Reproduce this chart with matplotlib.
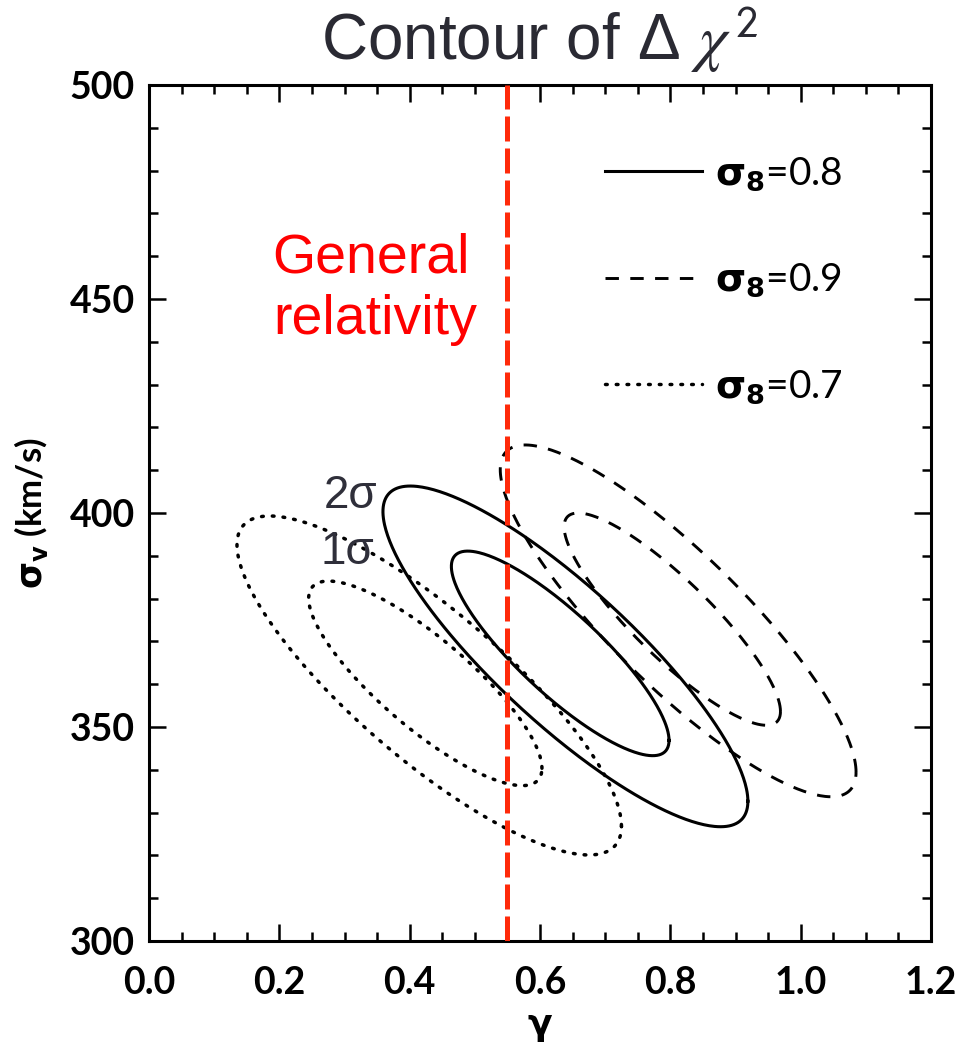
import numpy as np
import matplotlib
matplotlib.use("Agg")
import matplotlib.pyplot as plt
from matplotlib.ticker import MultipleLocator, FormatStrFormatter
from matplotlib.font_manager import FontProperties
from matplotlib.lines import Line2D

# ---------------- data ----------------
# each confidence contour: centre (gamma, sigma_v), half-extent in gamma,
# half-extent in sigma_v, correlation coefficient
series_labels = ["0.8", "0.9", "0.7"]
series_styles = ["solid", "dashed", "dotted"]

# order per series: [1 sigma, 2 sigma]
gamma_center = [[0.631, 0.639], [0.803, 0.812], [0.424, 0.430]]
sigv_center = [[367.2, 366.5], [375.2, 374.8], [360.2, 359.7]]
gamma_half = [[0.167, 0.280], [0.166, 0.273], [0.179, 0.295]]
sigv_half = [[23.9, 39.8], [24.8, 41.1], [23.9, 39.6]]
correlation = [[-0.85, -0.85], [-0.87, -0.86], [-0.83, -0.83]]

gr_gamma = 0.55  # general relativity

xticks = [0.0, 0.2, 0.4, 0.6, 0.8, 1.0, 1.2]
yticks = [300, 350, 400, 450, 500]

# ---------------- figure ----------------
W, H = 959, 1043
fig = plt.figure(figsize=(W / 100, H / 100), dpi=100)
ax = fig.add_axes([149 / W, 1 - 941 / H, (931 - 149) / W, (941 - 85) / H])

dash_specs = {
    "solid": dict(linestyle="-", lw=2.2),
    "dashed": dict(linestyle=(0, (4.6, 3.9)), lw=2.1),
    "dotted": dict(linestyle=(0, (0.5, 2.6)), dash_capstyle="round", lw=2.5),
}

t = np.linspace(0, 2 * np.pi, 400)
handles = []
for s, style in enumerate(series_styles):
    for k in range(2):
        r = correlation[s][k]
        gx = gamma_center[s][k] + gamma_half[s][k] * np.cos(t)
        gy = sigv_center[s][k] + sigv_half[s][k] * (r * np.cos(t) + np.sqrt(1 - r * r) * np.sin(t))
        ax.plot(gx, gy, color="black", **dash_specs[style])
    handles.append(Line2D([], [], color="black", **dash_specs[style]))

ax.axvline(gr_gamma, color="#ff2a0a", lw=3.6, linestyle=(0, (5.0, 1.4)), zorder=5)

ax.set_xlim(0, 1.2)
ax.set_ylim(300, 500)
ax.set_xticks(xticks)
ax.set_yticks(yticks)
ax.xaxis.set_minor_locator(MultipleLocator(0.05))
ax.yaxis.set_minor_locator(MultipleLocator(10))
ax.xaxis.set_major_formatter(FormatStrFormatter("%.1f"))
ax.yaxis.set_major_formatter(FormatStrFormatter("%d"))

for sp in ax.spines.values():
    sp.set_linewidth(2.2)
ax.tick_params(which="both", direction="in", top=True, right=True, width=1.8, color="black")
ax.tick_params(which="major", length=12)
ax.tick_params(which="minor", length=6.5)
ax.tick_params(axis="x", which="major", pad=18)
ax.tick_params(axis="y", which="major", pad=10)

for lab in ax.get_xticklabels() + ax.get_yticklabels():
    lab.set_fontfamily("Lato")
    lab.set_fontweight("bold")
    lab.set_fontsize(27)

ax.set_xlabel(r"$\mathbf{\gamma}$", fontsize=26, math_fontfamily="dejavusans")
ax.xaxis.label.set_va("center")
ax.xaxis.set_label_coords(0.5, -0.101)
ax.set_ylabel(r"$\mathbf{\sigma_v}$ (km/s)", fontsize=25, fontweight="bold",
              fontfamily="Lato", math_fontfamily="dejavusans")
ax.yaxis.set_label_coords(-0.127, 0.5)

ax.set_title(r"Contour of Δ $\chi^{\,\mathsf{2}}$", fontsize=46, color="#2a2a33",
             fontfamily="Liberation Sans", math_fontfamily="stix", pad=18)

# annotations
ann_color = "#2f2f3a"
ax.text(0.31, 404.0, "2σ", fontsize=33, color=ann_color, family="Liberation Sans",
        ha="center", va="center")
ax.text(0.305, 390.9, "1σ", fontsize=33, color=ann_color, family="Liberation Sans",
        ha="center", va="center")
ax.text(0.189, 456.1, "General", fontsize=40, color="#ff0000", family="Liberation Sans",
        ha="left", va="baseline")
ax.text(0.190, 441.8, "relativity", fontsize=40, color="#ff0000", family="Liberation Sans",
        ha="left", va="baseline")

labels = [r"$\mathbf{\sigma_8}$=" + v for v in series_labels]
prop = FontProperties(family="Lato", size=28, math_fontfamily="dejavusans")
ax.legend(handles, labels, prop=prop, frameon=False, loc="upper left",
          bbox_to_anchor=((605 - 149) / (931 - 149), 1 - (155 - 85) / (941 - 85)),
          borderaxespad=0, borderpad=0, handlelength=2.5, handletextpad=0.33,
          labelspacing=1.78)

fig.savefig("out.png", dpi=100)
